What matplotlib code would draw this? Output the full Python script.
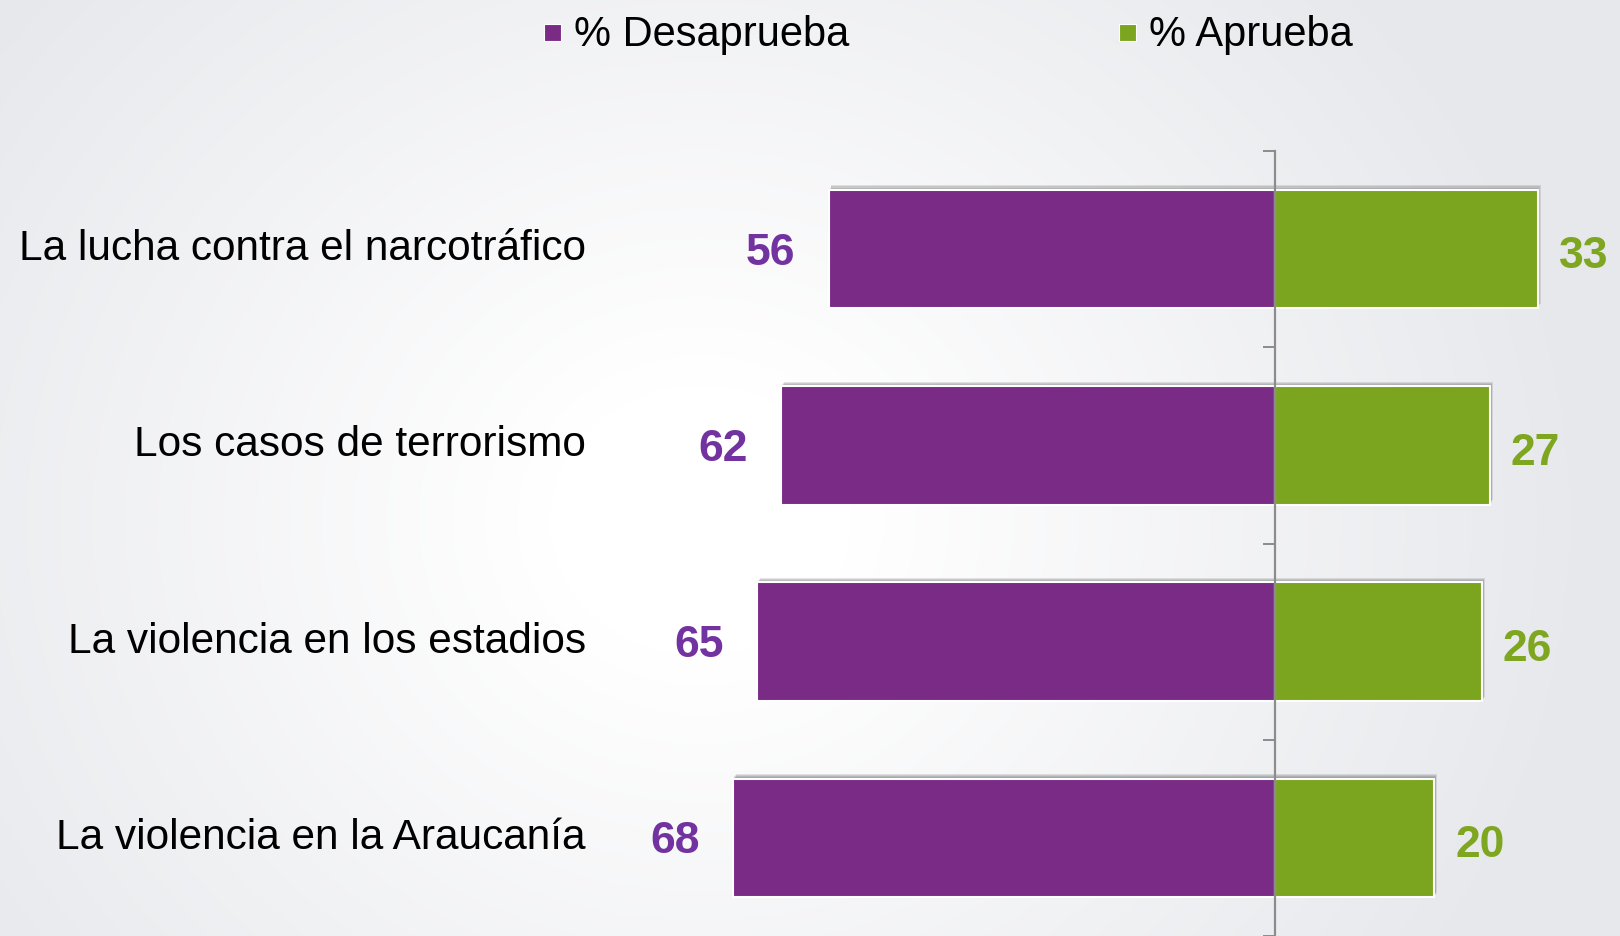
import numpy as np
import matplotlib
matplotlib.use("Agg")
import matplotlib.pyplot as plt
from matplotlib.patches import Rectangle
import matplotlib.patheffects as pe

categorias = ["La lucha contra el narcotráfico", "Los casos de terrorismo",
              "La violencia en los estadios", "La violencia en la Araucanía"]
desaprueba = [56, 62, 65, 68]
aprueba = [33, 27, 26, 20]
series = ["% Desaprueba", "% Aprueba"]

morado = "#7a2b86"
verde = "#7ba51e"
morado_txt = "#7232a0"
verde_txt = "#7fa620"

W, H = 1620, 936
plt.rcParams['font.family'] = ['Liberation Sans', 'DejaVu Sans']
fig = plt.figure(figsize=(W / 100, H / 100), dpi=100)

# fondo con degradado radial
bg = fig.add_axes([0, 0, 1, 1], zorder=-10)
yy, xx = np.mgrid[0:H, 0:W]
d = np.sqrt(((xx - 700) / 1.0) ** 2 + ((yy - 520) / 0.9) ** 2)
t = np.clip((d - 150) / 750, 0, 1)
c0 = np.array([1.0, 1.0, 1.0])
c1 = np.array([0.905, 0.91, 0.925])
img = c0[None, None, :] * (1 - t[..., None]) + c1[None, None, :] * t[..., None]
bg.imshow(img, aspect="auto", extent=[0, 1, 0, 1], origin="upper")
bg.axis("off")

# ejes principales
zero_px = 1275
px_unit = 7.97
top_px = 151
ax = fig.add_axes([0, 0, 1, 1 - top_px / H])
ax.patch.set_alpha(0)
ax.set_xlim(-zero_px / px_unit, (W - zero_px) / px_unit)
ax.set_ylim(3.5, -0.5)

y = np.arange(len(categorias))
sombra = [pe.SimplePatchShadow(offset=(o * 0.6, o), shadow_rgbFace="#444444", alpha=0.14)
          for o in (0.8, 1.6, 2.4, 3.2)] + [pe.Normal()]
b1 = ax.barh(y, [-v for v in desaprueba], height=0.605, color=morado,
             edgecolor="white", linewidth=1.5)
b2 = ax.barh(y, aprueba, height=0.605, color=verde,
             edgecolor="white", linewidth=1.5)
for b in list(b1) + list(b2):
    b.set_path_effects(sombra)

for i in range(len(categorias)):
    ax.text(-desaprueba[i] - 4.2, y[i] + 0.02, str(desaprueba[i]), ha="right", va="center",
            fontsize=32, fontweight="bold", color=morado_txt)
    ax.text(aprueba[i] + 2.6, y[i] + 0.04, str(aprueba[i]), ha="left", va="center",
            fontsize=32, fontweight="bold", color=verde_txt)
    ax.text((586 - zero_px) / px_unit, y[i], categorias[i], ha="right", va="center",
            fontsize=30.5, color="black")

for s in ["top", "right", "bottom"]:
    ax.spines[s].set_visible(False)
ax.spines["left"].set_position(("data", 0))
ax.spines["left"].set_color("#8c8c8c")
ax.spines["left"].set_linewidth(1.6)
ax.spines["left"].set_zorder(5)
ax.set_xticks([])
ax.set_yticks([-0.5, 0.5, 1.5, 2.5, 3.5])
ax.set_yticklabels([])
ax.tick_params(axis="y", direction="out", length=8.5, width=1.4, color="#8c8c8c")

# leyenda
for x0, col, txt in [(544, morado, series[0]), (1119, verde, series[1])]:
    fig.add_artist(Rectangle((x0 / W, 1 - 41 / H), 17 / W, 17 / H,
                             transform=fig.transFigure, facecolor=col,
                             edgecolor="white", linewidth=0.8))
    fig.text((x0 + 30) / W, 1 - 35 / H, txt, ha="left", va="center",
             fontsize=30, color="black")

fig.savefig("out.png", dpi=100)
